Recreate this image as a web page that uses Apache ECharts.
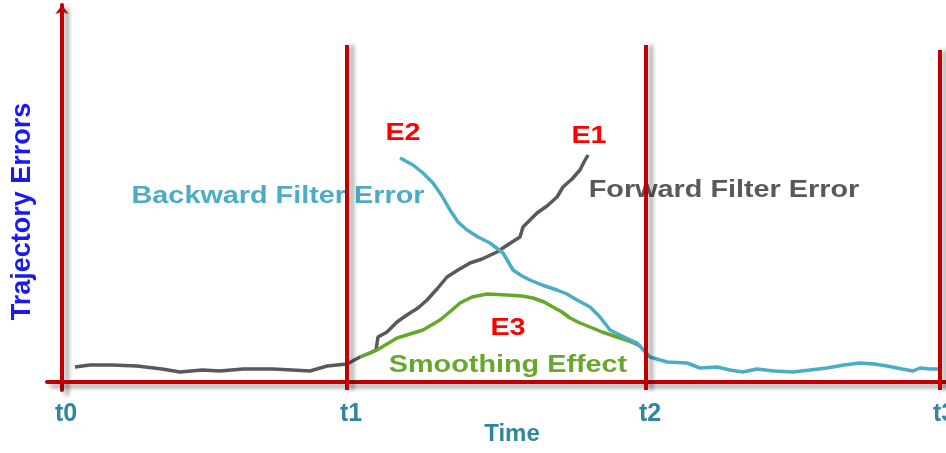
<!DOCTYPE html>
<html>
<head>
<meta charset="utf-8">
<script src="https://cdn.jsdelivr.net/npm/echarts@6/dist/echarts.min.js"></script>
<style>
  html, body { margin: 0; padding: 0; background: #fff; }
  #chart { width: 946px; height: 453px; }
</style>
</head>
<body>
<div id="chart"></div>
<script>
// 时间刻度 t0..t3 及对应竖线顶端
const tickLabels = ['t0', 't1', 't2', 't3']
const tickValues = [0, 285, 584, 878]
const tickTops = [null, 337, 337, 332]

// 前向滤波误差（灰）
const forwardX = [13, 28, 50, 75, 100, 118, 140, 158, 181, 200, 211, 230, 248, 265, 285, 298, 308, 314, 316, 325, 335, 342, 348, 356, 365, 375, 385, 396, 408, 420, 435, 447, 458, 461, 468, 475, 485, 495, 501, 510, 518, 522, 526]
const forwardY = [15, 17, 17, 16, 13, 10, 12, 11, 13, 13, 13, 12, 11, 16, 18, 25, 29, 32, 45, 50, 60, 65, 69, 74, 82, 93, 105, 112, 119, 123, 130, 138, 145, 155, 162, 169, 176, 185, 195, 203, 212, 220, 227]

// 后向滤波误差（蓝）
const backwardX = [338, 351, 361, 371, 380, 388, 396, 405, 416, 428, 441, 451, 460, 468, 480, 495, 505, 515, 528, 538, 548, 560, 575, 588, 605, 625, 638, 655, 668, 681, 695, 712, 731, 748, 765, 782, 798, 812, 825, 840, 851, 858, 868, 878]
const backwardY = [224, 217, 209, 199, 186, 172, 160, 152, 145, 139, 129, 112, 106, 102, 97, 92, 88, 82, 75, 65, 52, 46, 39, 25, 20, 19, 14, 15, 12, 10, 13, 11, 10, 12, 14, 17, 19, 18, 16, 13, 11, 14, 13, 13]

// 平滑结果（绿）
const smoothX = [298, 315, 335, 348, 361, 378, 390, 398, 410, 425, 445, 460, 471, 482, 491, 500, 508, 518, 528, 540, 555, 567, 578]
const smoothY = [25, 32, 44, 48, 52, 62, 72, 79, 85, 88, 87, 86, 84, 80, 75, 70, 64, 59, 55, 50, 45, 41, 36]

const zip = (xs, ys) => xs.map((x, i) => [x, ys[i]])

const red = '#c00000'
const axisShadow = { shadowColor: 'rgba(0,0,0,0.35)', shadowBlur: 4, shadowOffsetX: 5, shadowOffsetY: 4 }
const font = 'bold 24px "Liberation Sans", Arial, sans-serif'

function label(text, x, y, fill) {
  return {
    type: 'text', x, y, z: 0, scaleX: 1.2, scaleY: 1,
    style: { text, fill, font, align: 'center', verticalAlign: 'middle' },
  }
}

const chart = echarts.init(document.getElementById('chart'), null, { renderer: 'canvas' })

chart.setOption({
  animation: false,
  backgroundColor: '#fff',
  grid: { left: 47, right: 0, top: 5, bottom: 63, containLabel: false, outerBoundsMode: 'none' },
  xAxis: {
    type: 'value',
    min: -15,
    max: 884,
    name: 'Time',
    nameLocation: 'middle',
    nameGap: 32,
    nameMoveOverlap: false,
    nameTextStyle: { color: '#31859c', fontSize: 24, fontWeight: 'bold', fontFamily: 'Liberation Sans', padding: [0, 0, 0, 31] },
    axisLine: { onZero: true, lineStyle: { color: red, width: 4, ...axisShadow } },
    axisTick: { show: false },
    splitLine: { show: false },
    axisLabel: {
      customValues: tickValues,
      formatter: v => tickLabels[tickValues.indexOf(v)],
      margin: 12,
      padding: [0, 0, 0, 8],
      color: '#31859c',
      fontSize: 25,
      fontWeight: 'bold',
      fontFamily: 'Liberation Sans',
    },
  },
  yAxis: {
    type: 'value',
    min: -8,
    max: 377,
    name: 'Trajectory Errors',
    nameLocation: 'middle',
    nameGap: 11,
    nameTextStyle: { color: '#1a1aee', fontSize: 27, fontWeight: 'bold', fontFamily: 'Liberation Sans', padding: [0, 28, 0, 0] },
    axisLine: { onZero: true, symbol: ['none', 'arrow'], symbolSize: [10, 9], lineStyle: { color: red, width: 4, ...axisShadow } },
    axisTick: { show: false },
    axisLabel: { show: false },
    splitLine: { show: false },
  },
  graphic: [
    label('Backward Filter Error', 278, 196, '#4bacc6'),
    label('Forward Filter Error', 724, 190, '#595959'),
    label('E2', 403, 133, '#ff0000'),
    label('E1', 589, 136, '#ff0000'),
    label('E3', 508, 328, '#ff0000'),
    label('Smoothing Effect', 508, 365, '#66a82c'),
  ],
  series: [
    {
      // t1..t3 竖线
      type: 'line',
      data: [],
      z: 1,
      markLine: {
        silent: true,
        symbol: ['none', 'none'],
        label: { show: false },
        lineStyle: { color: red, width: 4, type: 'solid', ...axisShadow, shadowOffsetY: 0 },
        data: tickValues
          .map((x, i) => tickTops[i] == null ? null : [{ coord: [x, -8] }, { coord: [x, tickTops[i]] }])
          .filter(Boolean),
      },
    },
    {
      name: 'Forward Filter Error',
      type: 'line',
      data: zip(forwardX, forwardY),
      symbol: 'none',
      lineStyle: { color: '#595959', width: 3.5 },
      z: 3,
    },
    {
      name: 'Smoothing Effect',
      type: 'line',
      data: zip(smoothX, smoothY),
      symbol: 'none',
      lineStyle: { color: '#66a82c', width: 3.5 },
      z: 3,
    },
    {
      name: 'Backward Filter Error',
      type: 'line',
      data: zip(backwardX, backwardY),
      symbol: 'none',
      lineStyle: { color: '#4bacc6', width: 3.5 },
      z: 3,
    },
  ],
})
</script>
</body>
</html>
